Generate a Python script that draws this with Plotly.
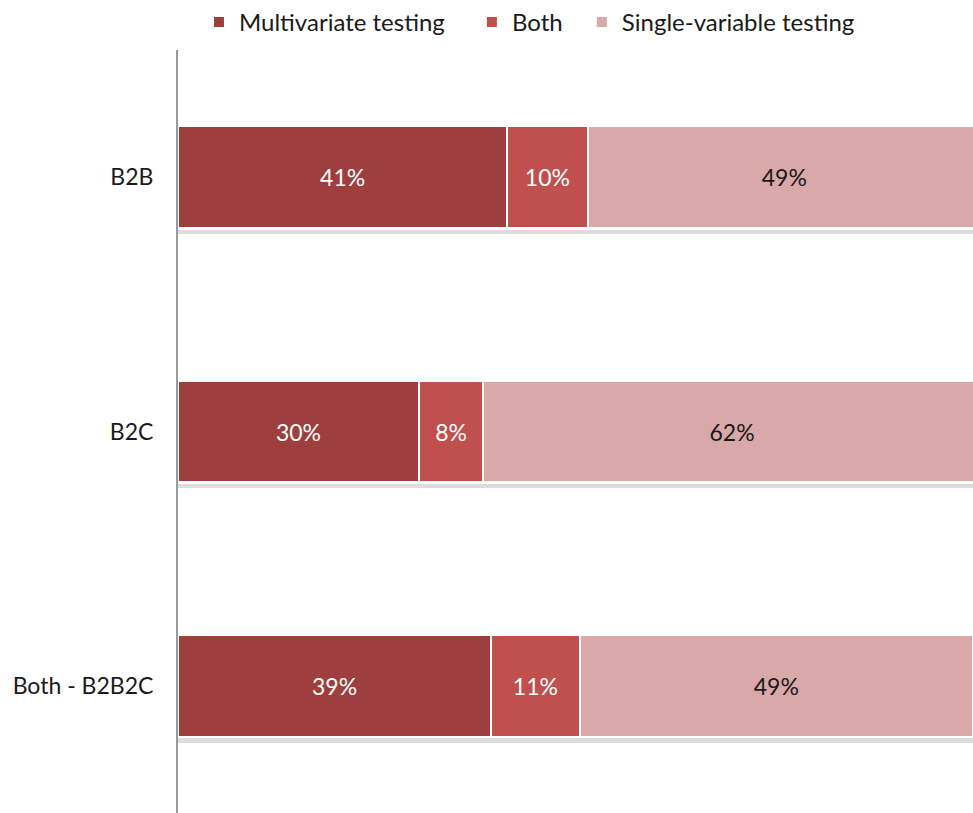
import plotly.graph_objects as go

categories = ["B2B", "B2C", "Both - B2B2C"]
multivariate = [41, 30, 39]
both = [10, 8, 11]
single = [49, 62, 49]

series = [
    ("Multivariate testing", multivariate, "#9E3F3E", "white", "legend", 0.2045),
    ("Both", both, "#C0504D", "white", "legend2", 0.485),
    ("Single-variable testing", single, "#D9A8A8", "#1a1a1a", "legend3", 0.598),
]

fig = go.Figure()
legends = {}
for name, vals, color, txtcolor, leg, lx in series:
    fig.add_trace(go.Bar(
        y=categories, x=vals, name=name, orientation="h",
        marker=dict(color=color, line=dict(color="white", width=2)),
        text=[f"{v}%" for v in vals], textposition="inside",
        insidetextanchor="middle",
        textfont=dict(color=txtcolor, size=23, family="Lato"),
        width=0.4, legend=leg,
    ))
    legends[leg] = dict(xref="container", yref="container", x=lx, xanchor="left",
                        y=1.005, yanchor="top", font=dict(size=24),
                        bgcolor="rgba(0,0,0,0)")

# soft shadow strip under each bar, on an overlaid axis so it is not stacked
totals = [m + b + s for m, b, s in zip(multivariate, both, single)]
fig.add_trace(go.Bar(
    y=categories, x=totals, orientation="h", yaxis="y2",
    width=0.018, offset=0.206, marker=dict(color="rgba(120,120,120,0.25)", line=dict(width=0)),
    showlegend=False, hoverinfo="skip",
))

fig.update_layout(
    barmode="stack",
    width=973, height=813,
    margin=dict(l=178, r=0, t=50, b=0, autoexpand=False),
    plot_bgcolor="white", paper_bgcolor="white",
    font=dict(family="Lato", size=23, color="#1a1a1a"),
    showlegend=True,
    uniformtext=dict(minsize=10, mode="show"),
    yaxis2=dict(overlaying="y", matches="y", visible=False, showgrid=False),
    **legends,
)
fig.update_xaxes(range=[0, 99], visible=False)
fig.update_yaxes(autorange="reversed", showline=True, linecolor="#9a9a9a", linewidth=2,
                 ticks="", ticklabelstandoff=18, showgrid=False, selector=dict(overlaying=None))

# drop the default page margin so the figure sits at the window's corner
fig.write_html("out.html", config={"displayModeBar": False},
               post_script="document.body.style.margin='0';document.body.style.overflow='hidden';")
